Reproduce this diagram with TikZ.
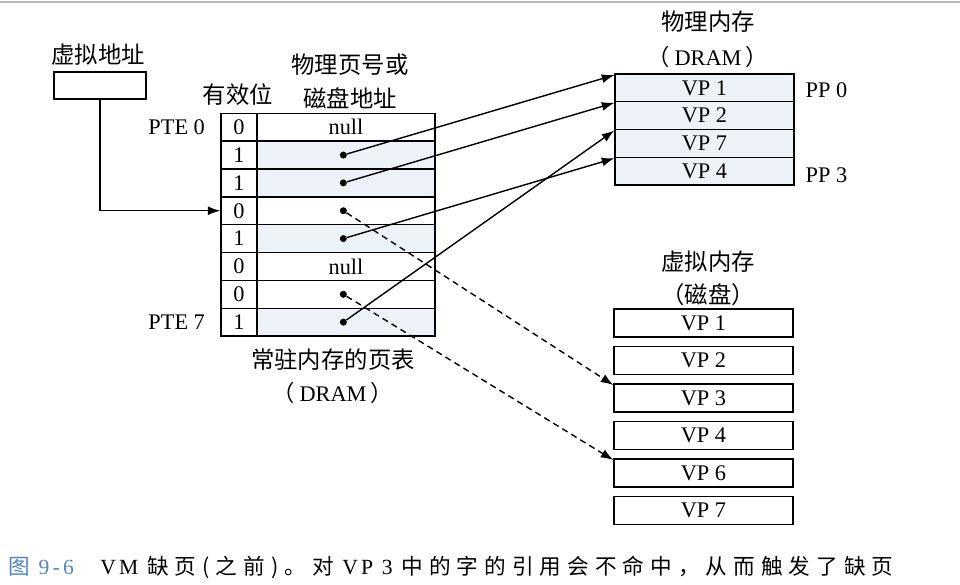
\documentclass[tikz,border=0pt]{standalone}
\usepackage{fontspec}
\setmainfont{Liberation Serif}
\newfontfamily\zhfont{Noto Sans CJK SC}
\newfontfamily\capfont[LetterSpace=28]{Noto Sans CJK SC}
\newfontfamily\caplatin[LetterSpace=15]{Liberation Serif}
\usetikzlibrary{arrows.meta,positioning,calc}
\definecolor{memBg}{HTML}{EDF2F9}
\definecolor{figBlue}{HTML}{4F86C6}
\tikzset{
  arr/.style={-{Latex[length=2.5mm,width=1.8mm]}, line width=0.8pt},
  dasharr/.style={arr, dash pattern=on 3.5pt off 2.5pt},
  cell/.style={draw, line width=0.8pt, minimum height=0.557cm, inner sep=0pt,
    font=\fontsize{12.7}{14}\selectfont},
  bitcell/.style={cell, minimum width=0.72cm},
  addrcell/.style={cell, minimum width=3.56cm},
  dramcell/.style={cell, fill=memBg, minimum width=3.58cm, minimum height=0.555cm},
  diskcell/.style={cell, minimum width=3.58cm, minimum height=0.56cm},
  lbl/.style={font=\fontsize{12.7}{14}\selectfont, inner sep=1pt},
  zhlbl/.style={font=\fontsize{13.3}{15}\selectfont\zhfont, inner sep=1pt},
  dot/.style={circle, fill, inner sep=0pt, minimum size=4pt}
}
\newcommand{\dram}{{\zhfont （}\hspace{0.2em}DRAM\hspace{0.2em}{\zhfont ）}}

\begin{document}
\begin{tikzpicture}[x=1cm,y=1cm]
  \useasboundingbox (0,0) rectangle (19.2,11.7);
  \draw[gray!55, line width=1.2pt] (0,11.66) -- (19.2,11.66);

  % virtual address
  \node[zhlbl] (valbl) at (1.96,10.6) {虚拟地址};
  \node[draw, line width=0.8pt, minimum width=1.84cm, minimum height=0.54cm] (va) at (2.0,9.99) {};

  % page table
  \node[zhlbl] (bitlbl) at (4.76,9.8) {有效位};
  \node[zhlbl] (addrlbl1) at (7.0,10.4) {物理页号或};
  \node[zhlbl] (addrlbl2) at (7.0,9.74) {磁盘地址};
  \foreach \b/\t [count=\i from 0] in {0/null,1/,1/,0/,1/,0/null,0/,1/} {
    \def\f{white}\ifnum\b=1 \def\f{memBg}\fi
    \node[bitcell] (b\i) at (4.78,9.156-0.557*\i) {\b};
    \node[addrcell, fill=\f] (a\i) at (6.92,9.156-0.557*\i) {\t};
  }
  \foreach \i in {1,2,3,4,6,7}
    \node[dot] (d\i) at ([xshift=-1.5pt]a\i.center) {};
  \node[lbl, anchor=east] (pte0) at (4.14,9.156) {PTE 0};
  \node[lbl, anchor=east] (pte7) at (4.14,9.156-0.557*7) {PTE 7};
  \node[zhlbl] (ptlbl1) at (6.66,4.5) {常驻内存的页表};
  \node[lbl] (ptlbl2) at (6.66,3.84) {\dram};

  % physical memory
  \node[zhlbl] (pmlbl1) at (14.16,11.26) {物理内存};
  \node[lbl] (pmlbl2) at (14.16,10.56) {\dram};
  \foreach \t [count=\i from 0] in {VP 1,VP 2,VP 7,VP 4}
    \node[dramcell] (p\i) at (14.09,9.942-0.555*\i) {\t};
  \node[lbl] (pp0) at (16.53,9.9) {PP 0};
  \node[lbl] (pp3) at (16.53,8.2) {PP 3};

  % virtual memory on disk
  \node[zhlbl] (vmlbl1) at (14.16,6.46) {虚拟内存};
  \node[zhlbl] (vmlbl2) at (14.16,5.8) {（磁盘）};
  \foreach \t [count=\i from 0] in {VP 1,VP 2,VP 3,VP 4,VP 6,VP 7}
    \node[diskcell] (k\i) at (14.07,5.24-0.75*\i) {\t};

  \draw[arr] (va.south) |- (b3.west);
  \draw[arr] (d1) -- ([yshift=-1pt]p0.north west);
  \draw[arr] (d2) -- ([yshift=-1pt]p1.north west);
  \draw[arr] (d7) -- ([yshift=-1pt]p2.north west);
  \draw[arr] (d4) -- ([yshift=-1pt]p3.north west);
  \draw[dasharr] (d3) -- ([yshift=-1pt]k2.north west);
  \draw[dasharr] (d6) -- ([yshift=-1pt]k4.north west);

  % caption
  \node[anchor=west, inner sep=0pt, text=figBlue, font=\fontsize{12.3}{14}\selectfont\caplatin] (capno) at (0.16,0.36) {{\zhfont 图} 9-6};
  \node[anchor=west, inner sep=0pt, font=\fontsize{12.3}{14}\selectfont\caplatin] (captxt) at (2.0,0.36)
    {VM {\capfont 缺页(之前)。对} VP 3 {\capfont 中的字的引用会不命中，从而触发了缺页}};
\end{tikzpicture}
\end{document}
